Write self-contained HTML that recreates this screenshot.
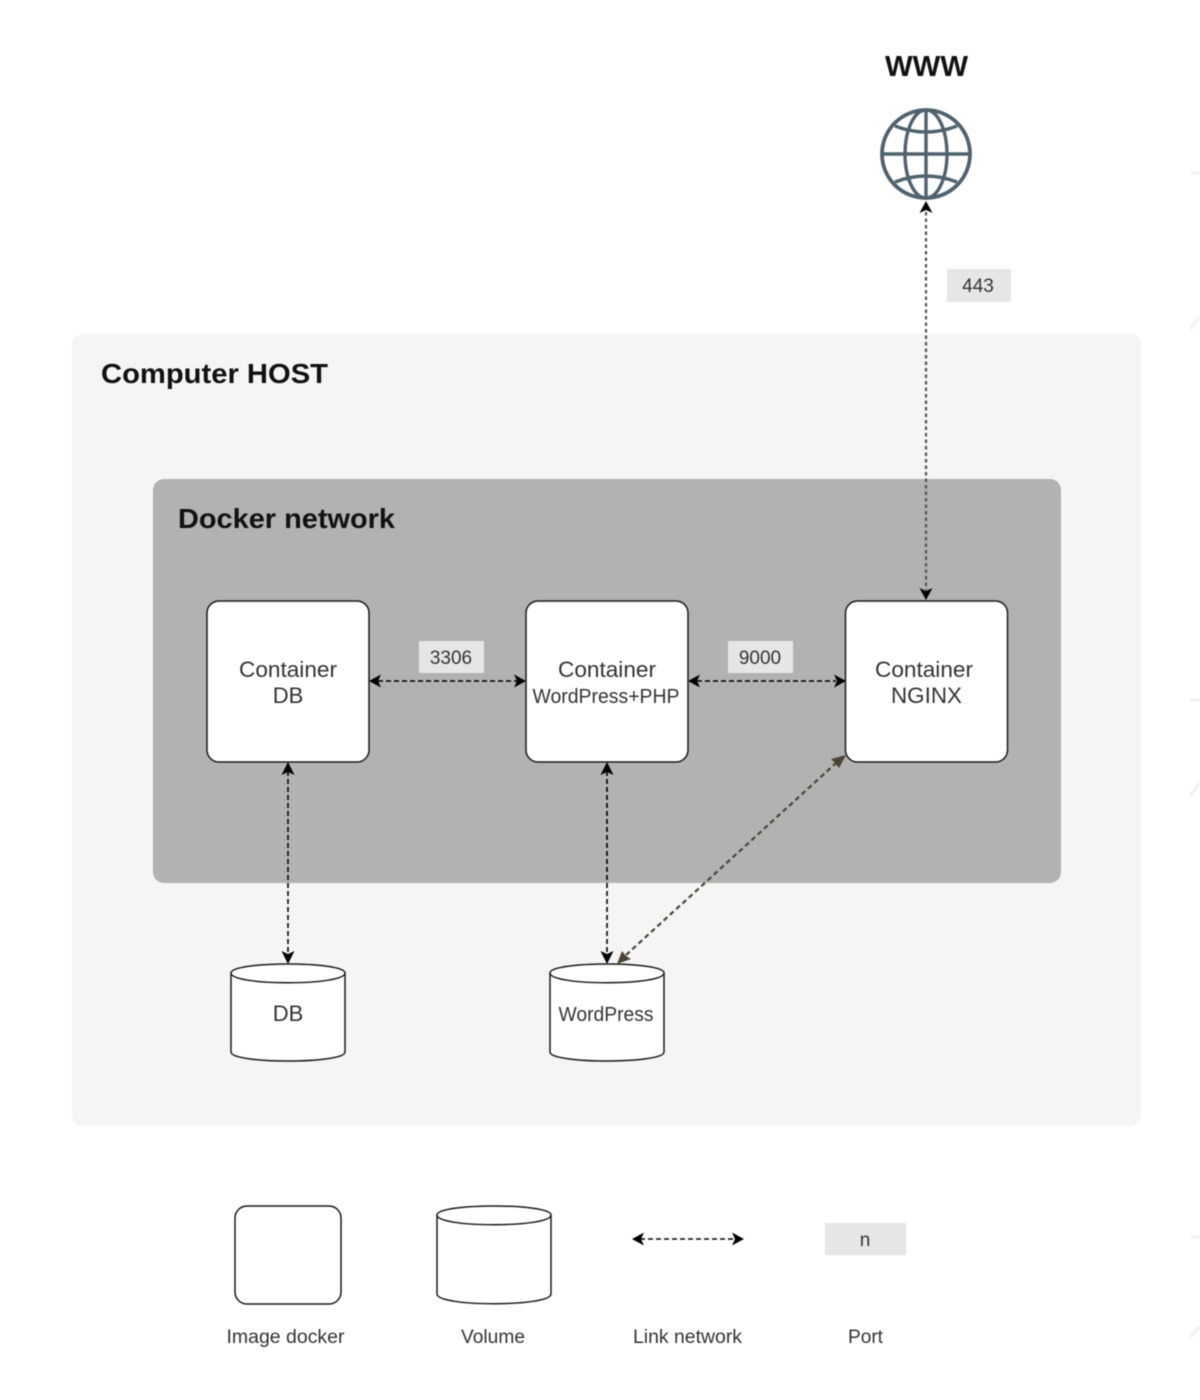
<!DOCTYPE html>
<html>
<head>
<meta charset="utf-8">
<style>
html,body{margin:0;padding:0;background:#fff;width:1200px;height:1400px;overflow:hidden}
svg{display:block;filter:blur(.4px)}
text{font-family:"Liberation Sans",Arial,sans-serif;text-anchor:middle;fill:#333}
.b{font-weight:bold;fill:#111;text-anchor:start}
.shape{fill:#fff;stroke:#1a1a1a;stroke-width:1.5}
.lnk{fill:none;stroke:#000;stroke-width:1.6;stroke-dasharray:5 3}
.glob{fill:none;stroke:#4f626e;stroke-width:3.4}
</style>
</head>
<body>
<svg width="1200" height="1400" viewBox="0 0 1200 1400" xmlns="http://www.w3.org/2000/svg">
<rect width="1200" height="1400" fill="#fff"/>
<!-- faint edge marks -->
<g fill="none" stroke="#f1f1f1" stroke-width="3">
<path d="M1190 173H1200M1190 329L1200 317M1190 700H1200M1190 796L1200 782M1190 1237H1200M1190 1338L1200 1326"/>
</g>
<!-- containers -->
<rect x="72" y="334" width="1069" height="792" rx="11" fill="#f5f5f5"/>
<rect x="153" y="479" width="908" height="404" rx="11" fill="#b2b2b2"/>
<text class="b" x="101" y="383" font-size="28" textLength="227" lengthAdjust="spacingAndGlyphs">Computer HOST</text>
<text class="b" x="178" y="528" font-size="28" textLength="217" lengthAdjust="spacingAndGlyphs">Docker network</text>
<text class="b" x="885" y="76" font-size="29" textLength="83" lengthAdjust="spacingAndGlyphs">WWW</text>
<!-- globe -->
<g class="glob">
<circle cx="926" cy="154" r="44" stroke-width="3.8"/>
<ellipse cx="926" cy="154" rx="21" ry="44"/>
<path d="M926 110V198M882 154H970M895 126Q926 138 957 126M895 182Q926 170 957 182"/>
</g>
<!-- boxes -->
<rect class="shape" x="207" y="601" width="162" height="161" rx="12"/>
<rect class="shape" x="526" y="601" width="162" height="161" rx="12"/>
<rect class="shape" x="845.5" y="601" width="162" height="161" rx="12"/>
<text x="288" y="677" font-size="22" textLength="98" lengthAdjust="spacingAndGlyphs">Container</text>
<text x="288" y="703" font-size="22">DB</text>
<text x="607" y="677" font-size="22" textLength="98" lengthAdjust="spacingAndGlyphs">Container</text>
<text x="606" y="703" font-size="20" textLength="147" lengthAdjust="spacingAndGlyphs">WordPress+PHP</text>
<text x="924" y="677" font-size="22" textLength="98" lengthAdjust="spacingAndGlyphs">Container</text>
<text x="926.5" y="703" font-size="22" textLength="71" lengthAdjust="spacingAndGlyphs">NGINX</text>
<!-- port labels -->
<g fill="#e6e6e6">
<rect x="947" y="269" width="64" height="33"/>
<rect x="419" y="641" width="65" height="32"/>
<rect x="728" y="641" width="65" height="32"/>
<rect x="825" y="1223" width="81" height="32"/>
</g>
<text x="978" y="292" font-size="19">443</text>
<text x="451" y="664" font-size="19">3306</text>
<text x="760" y="664" font-size="19">9000</text>
<text x="865" y="1246" font-size="19">n</text>
<!-- cylinders -->
<path class="shape" d="M231 973C231 961 345 961 345 973V1052C345 1064 231 1064 231 1052Z"/>
<path class="shape" d="M231 973C231 986 345 986 345 973"/>
<path class="shape" d="M550 973C550 961 664 961 664 973V1052C664 1064 550 1064 550 1052Z"/>
<path class="shape" d="M550 973C550 986 664 986 664 973"/>
<path class="shape" d="M437 1215C437 1203 551 1203 551 1215V1294C551 1307 437 1307 437 1294Z"/>
<path class="shape" d="M437 1215C437 1228 551 1228 551 1215"/>
<rect class="shape" x="235" y="1206" width="106" height="98" rx="12"/>
<text x="288" y="1021" font-size="22">DB</text>
<text x="606" y="1021" font-size="20" textLength="95" lengthAdjust="spacingAndGlyphs">WordPress</text>
<!-- links -->
<path class="lnk" style="stroke:#555;stroke-width:2.2;stroke-dasharray:3.500 3" d="M926 212V590"/>
<path class="lnk" d="M378 681H517M697 681H836M288 771V955M607 771V955M640 1239H736"/>
<path class="lnk" style="stroke:#4a4432;stroke-width:2.2;stroke-dasharray:5 3.500" d="M626 955L836 763"/>
<!-- arrowheads -->
<g fill="#000">
<path d="M926 201L932.500 213L926 210L919.500 213Z"/>
<path d="M926 600L919.500 588L926 591L932.500 588Z"/>
<path d="M369 681L381 674.500L378 681L381 687.500Z"/>
<path d="M526 681L514 674.500L517 681L514 687.500Z"/>
<path d="M688 681L700 674.500L697 681L700 687.500Z"/>
<path d="M846 681L834 674.500L837 681L834 687.500Z"/>
<path d="M288 762L294.500 775L288 772L281.500 775Z"/>
<path d="M288 964L281.500 951L288 954L294.500 951Z"/>
<path d="M607 762L613.500 775L607 772L600.500 775Z"/>
<path d="M607 964L600.500 951L607 954L613.500 951Z"/>
<path d="M632 1239L644 1232.500L641 1239L644 1245.500Z"/>
<path d="M744 1239L732 1232.500L735 1239L732 1245.500Z"/>
</g>
<g fill="#4a4432">
<path d="M846 755L839 768L835 763L831 759Z"/>
<path d="M617 964L622 951L626 956L631 959Z"/>
</g>
<!-- legend -->
<text x="285.500" y="1343" font-size="19" textLength="118" lengthAdjust="spacingAndGlyphs">Image docker</text>
<text x="493" y="1343" font-size="19" textLength="64" lengthAdjust="spacingAndGlyphs">Volume</text>
<text x="687.500" y="1343" font-size="19" textLength="109" lengthAdjust="spacingAndGlyphs">Link network</text>
<text x="865.500" y="1343" font-size="19" textLength="35" lengthAdjust="spacingAndGlyphs">Port</text>
</svg>
</body>
</html>
